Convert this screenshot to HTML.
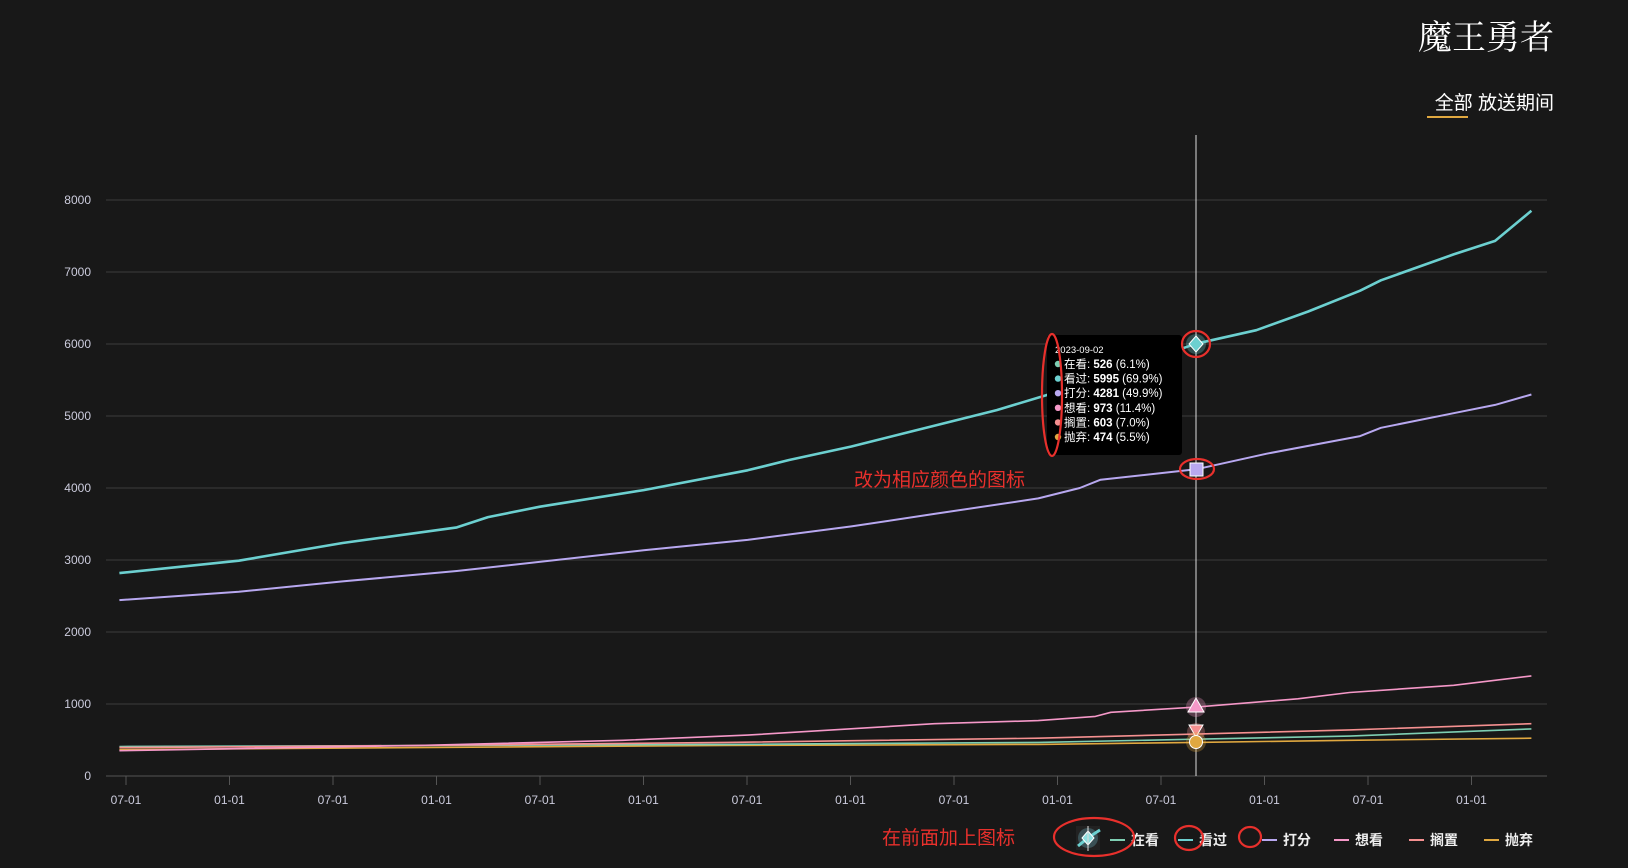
<!DOCTYPE html>
<html><head><meta charset="utf-8"><style>
html,body{margin:0;padding:0;background:#181818;width:1628px;height:868px;overflow:hidden}
svg{display:block}
</style></head><body>
<svg id="s" width="1628" height="868" xmlns="http://www.w3.org/2000/svg" font-family="'Liberation Sans','Noto Sans CJK SC',sans-serif">
<rect width="1628" height="868" fill="#181818"/>
<text x="1554" y="49" text-anchor="end" font-family="'Liberation Serif','Noto Serif CJK SC',serif" font-size="34" fill="#fff">魔王勇者</text>
<text x="1554" y="109" text-anchor="end" font-size="19" fill="#fff" font-family="'Liberation Sans','Noto Sans CJK SC',sans-serif">全部 放送期间</text>
<rect x="1427" y="116" width="41" height="2" fill="#e0a840"/>
<g id="grid"></g>
<g id="series"></g>
<line x1="1196" y1="135" x2="1196" y2="776" stroke="#ddd" stroke-width="1"/>
<g id="marks"></g>
<rect x="1047" y="335" width="135" height="120" rx="3" fill="#000"/>
<g font-size="11.5" fill="#fff">
<text x="1055" y="353" font-size="9.5">2023-09-02</text>
<g id="tt"></g>
</g>
<g id="legend" font-size="14" font-weight="bold" fill="#eee"></g>
<g fill="none" stroke="#e8302c" stroke-width="2.2">
<ellipse cx="1052" cy="395" rx="10" ry="61"/>
<ellipse cx="1196" cy="344" rx="14" ry="13"/>
<ellipse cx="1197" cy="469" rx="17" ry="10"/>
<ellipse cx="1094" cy="837" rx="40" ry="19"/>
<ellipse cx="1189" cy="838" rx="14" ry="12"/>
<ellipse cx="1250" cy="837" rx="11" ry="10"/>
</g>
<text x="854" y="486" font-size="19" fill="#e8302c">改为相应颜色的图标</text>
<text x="882" y="844" font-size="19" fill="#e8302c">在前面加上图标</text>
</svg>
<script>
const NS="http://www.w3.org/2000/svg";
function el(p,t,a,txt){const e=document.createElementNS(NS,t);for(const k in a)e.setAttribute(k,a[k]);if(txt)e.textContent=txt;document.getElementById(p).appendChild(e);return e;}
const Y=v=>776-v*0.072;
for(let i=0;i<=8;i++){const y=Y(i*1000);
 if(i>0) el('grid','line',{x1:106,x2:1547,y1:y,y2:y,stroke:'#3c3c3c','stroke-width':1});
 el('grid','text',{x:91,y:y+4,'text-anchor':'end','font-size':12,fill:'#ccd'},String(i*1000));}
el('grid','line',{x1:106,x2:1547,y1:776,y2:776,stroke:'#555','stroke-width':1});
for(let k=0;k<14;k++){const x=126+k*103.5;
 el('grid','line',{x1:x,x2:x,y1:776,y2:785,stroke:'#555'});
 el('grid','text',{x:x,y:804,'text-anchor':'middle','font-size':12,fill:'#ccd'},k%2?'01-01':'07-01');}
const s=1628/1568;
function pts(a){return a.map(p=>(p[0]*s).toFixed(1)+','+(p[1]*s).toFixed(1)).join(' ');}
const S=[
['#e0a840',1.6,[[115,722],[400,720],[700,718],[1000,717],[1152,715],[1300,713],[1475,711]]],
['#7ecfb3',1.6,[[115,719],[400,718],[700,717],[1000,715],[1152,712],[1300,709],[1475,702]]],
['#f59090',1.6,[[115,720],[400,718],[700,715],[1000,711],[1152,707],[1300,703],[1475,697]]],
['#f598c8',1.6,[[115,723],[400,718],[600,713],[720,708],[900,697],[1000,694],[1055,690],[1070,686],[1152,681],[1250,673],[1300,667],[1400,660],[1475,651]]],
['#b8a8f0',2,[[115,578],[230,570],[330,560],[440,550],[620,530],[720,520],[820,507],[900,495],[1000,480],[1040,470],[1060,462],[1152,452],[1220,437],[1310,420],[1330,412],[1400,398],[1440,390],[1475,380]]],
['#6cd0d0',2.6,[[115,552],[230,540],[330,523],[440,508],[470,498],[520,488],[620,472],[720,453],[760,443],[820,430],[880,415],[960,395],[1010,380],[1152,331],[1210,318],[1260,300],[1310,280],[1330,270],[1400,245],[1440,232],[1475,203]]]];
S.forEach(d=>el('series','polyline',{points:pts(d[2]),fill:'none',stroke:d[0],'stroke-width':d[1],'stroke-linejoin':'round'}));
// markers
el('marks','circle',{cx:1196,cy:707,r:10,fill:'#f598c8',opacity:.3});
el('marks','polygon',{points:'1196,698 1204,712 1188,712',fill:'#f598c8',stroke:'#fff','stroke-width':1});
el('marks','circle',{cx:1196,cy:732,r:9,fill:'#f59090',opacity:.3});
el('marks','polygon',{points:'1189,725 1203,725 1196,737',fill:'#f59090',stroke:'#fff','stroke-width':1});
el('marks','circle',{cx:1196,cy:742,r:10,fill:'#e0a840',opacity:.3});
el('marks','circle',{cx:1196,cy:742,r:6.5,fill:'#e0a840',stroke:'#fff','stroke-width':1});
el('marks','rect',{x:1190,y:463,width:13,height:13,fill:'#b8a8f0',stroke:'#fff','stroke-width':1});
el('marks','circle',{cx:1196,cy:344,r:10,fill:'#6cd0d0',opacity:.3});
el('marks','polygon',{points:'1196,336 1203,344 1196,352 1189,344',fill:'#6cd0d0',stroke:'#fff','stroke-width':1});
// tooltip
const T=[['#7ecfb3','在看','526','(6.1%)'],['#6cd0d0','看过','5995','(69.9%)'],['#b8a8f0','打分','4281','(49.9%)'],['#f598c8','想看','973','(11.4%)'],['#f59090','搁置','603','(7.0%)'],['#e0a840','抛弃','474','(5.5%)']];
T.forEach((r,i)=>{const y=368+i*14.6;
 el('tt','circle',{cx:1058,cy:y-4,r:3.2,fill:r[0]});
 const t=el('tt','text',{x:1064,y:y});
 t.innerHTML=r[1]+': <tspan font-weight="bold">'+r[2]+'</tspan> '+r[3];});
// legend
el('legend','rect',{x:1076,y:826,width:24,height:24,fill:'#222'});
el('legend','circle',{cx:1088,cy:838,r:10,fill:'#3a5055'});
el('legend','path',{d:'M1078,846 Q1090,836 1100,830',stroke:'#6cd0d0','stroke-width':3,fill:'none'});
el('legend','polygon',{points:'1088,831 1094,838 1088,845 1082,838',fill:'#8ee0e0',stroke:'#fff','stroke-width':1});
el('legend','line',{x1:1088,x2:1088,y1:826,y2:851,stroke:'#ddd','stroke-width':1});
const L=[[1110,'#7ecfb3','在看'],[1178,'#6cd0d0','看过'],[1262,'#b8a8f0','打分'],[1334,'#f598c8','想看'],[1409,'#f59090','搁置'],[1484,'#e0a840','抛弃']];
L.forEach(l=>{el('legend','line',{x1:l[0],x2:l[0]+15,y1:840,y2:840,stroke:l[1],'stroke-width':2});
 el('legend','text',{x:l[0]+21,y:845},l[2]);});
</script>
</body></html>
